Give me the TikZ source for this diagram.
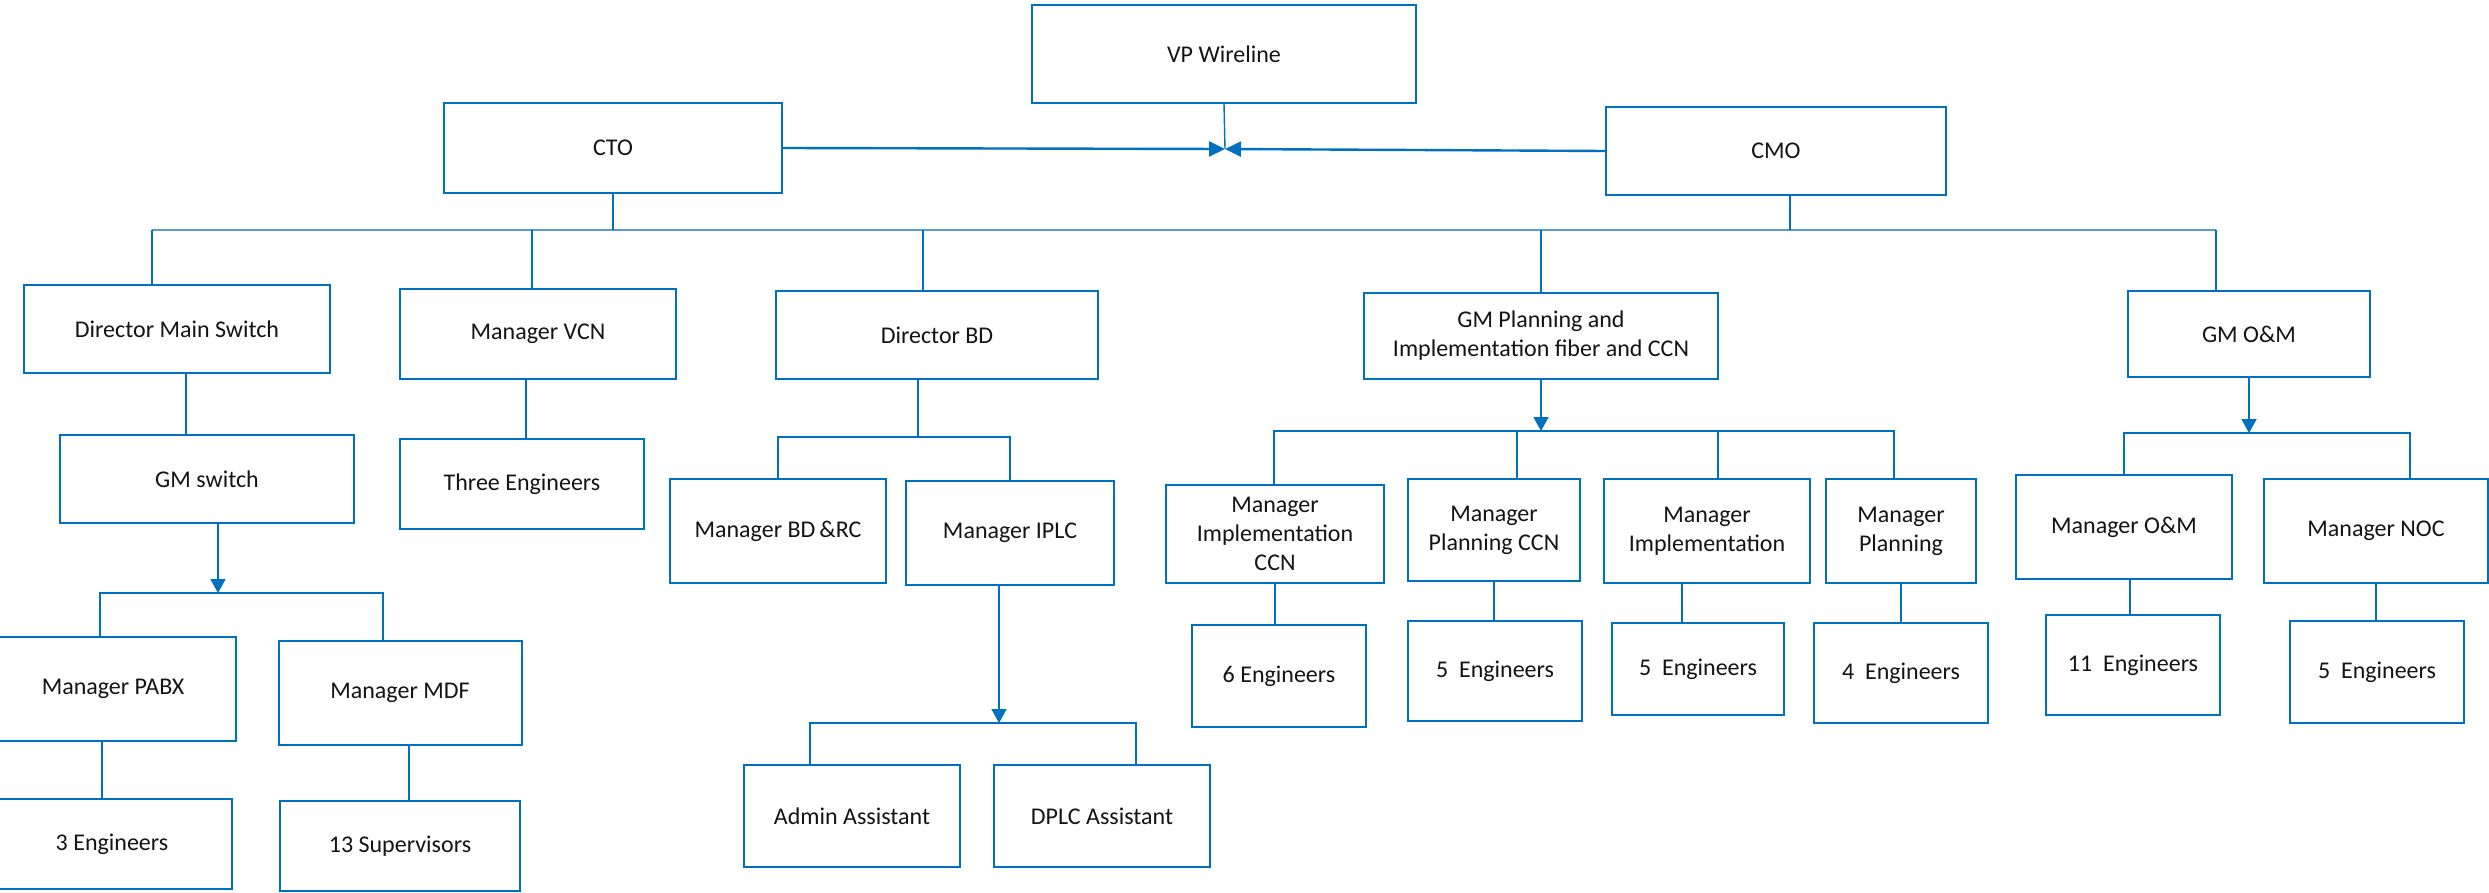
\documentclass[tikz,border=0pt]{standalone}
\usepackage{fontspec}
\setmainfont{Carlito}
\usetikzlibrary{arrows.meta}
\definecolor{wlblue}{HTML}{0070C0}
\definecolor{wlbus}{HTML}{5B9BD5}
\definecolor{wlink}{HTML}{141414}
\tikzset{
  blk/.style={draw=wlblue, line width=1pt, fill=white, align=center, text=wlink, inner sep=2pt, font=\fontsize{12}{14.5}\selectfont},
  sz/.style 2 args={minimum width=#1*0.5pt, minimum height=#2*0.5pt},
  lnk/.style={draw=wlblue, line width=0.7pt},
  bus/.style={draw=wlbus, line width=0.9pt},
  arr/.style={-{Triangle[length=7pt,width=7.5pt]}, draw=wlblue, line width=0.9pt},
}

\begin{document}
\begin{tikzpicture}[x=0.5pt,y=-0.5pt]
  \useasboundingbox (0,0) rectangle (2489,893);
  % top level
  \node[blk, sz={384}{98}] (vp) at (1224,54) {VP Wireline};
  \node[blk, sz={338}{90}] (cto) at (613,148) {CTO};
  \node[blk, sz={340}{88}] (cmo) at (1776,151) {CMO};
  \coordinate (meet) at (1225,149);
  \draw[arr, line width=1.2pt, -{Triangle[length=8pt,width=7.5pt]}] (cto.east) -- (meet);
  \draw[arr, line width=1.2pt, -{Triangle[length=8pt,width=7.5pt]}] (cmo.west) -- (meet);
  \draw[lnk] (vp.south) -- (meet);

  % main bus
  \coordinate (b0L) at (152,230); \coordinate (b0R) at (2216,230);
  \draw[bus] (b0L) -- (b0R);
  \draw[lnk] (cto.south) -- (cto.south |- b0L);
  \draw[lnk] ([xshift=7pt]cmo.south) -- ([xshift=7pt]cmo.south |- b0L);

  % second row
  \node[blk, sz={306}{88}] (dms) at (177,329) {Director Main Switch};
  \node[blk, sz={276}{90}] (vcn) at (538,334) {Manager VCN};
  \node[blk, sz={322}{88}] (dbd) at (937,335) {Director BD};
  \node[blk, sz={354}{86}] (gmp) at (1541,336) {GM Planning and\\Implementation fiber and CCN};
  \node[blk, sz={242}{86}] (gmom) at (2249,334) {GM O\&M};
  \draw[lnk] (b0L) -- (b0L |- dms.north);
  \draw[lnk] ([xshift=-3pt]vcn.north) -- ([xshift=-3pt]vcn.north |- b0L);
  \draw[lnk] ([xshift=-7pt]dbd.north) -- ([xshift=-7pt]dbd.north |- b0L);
  \draw[lnk] (gmp.north) -- (gmp.north |- b0L);
  \draw[lnk] (b0R) -- (b0R |- gmom.north);

  % main switch branch
  \node[blk, sz={294}{88}] (gms) at (207,479) {GM switch};
  \node[blk, sz={246}{104}] (pabx) at (113,689) {Manager PABX};
  \node[blk, sz={243}{104}] (mdf) at (400,693) {Manager MDF};
  \node[blk, sz={240}{90}] (eng3) at (112,844) {3 Engineers};
  \node[blk, sz={240}{90}] (sup13) at (400,846) {13 Supervisors};
  \draw[lnk] ([xshift=4.5pt]dms.south) -- ([xshift=4.5pt]dms.south |- gms.north);
  \coordinate (b1L) at (100,593); \coordinate (b1R) at (383,593);
  \draw[lnk] (b1L |- pabx.north) -- (b1L) -- (b1R) -- (b1R |- mdf.north);
  \draw[arr] ([xshift=5.5pt]gms.south) -- ([xshift=5.5pt]gms.south |- b1L);
  \draw[lnk] ([xshift=-5.5pt]pabx.south) -- ([xshift=-5.5pt]pabx.south |- eng3.north);
  \draw[lnk] ([xshift=4.5pt]mdf.south) -- ([xshift=4.5pt]mdf.south |- sup13.north);

  % VCN branch
  \node[blk, sz={244}{90}] (three) at (522,484) {Three Engineers};
  \draw[lnk] ([xshift=-6pt]vcn.south) -- ([xshift=-6pt]vcn.south |- three.north);

  % BD branch
  \node[blk, sz={216}{104}] (bdrc) at (778,531) {Manager BD\,\&RC};
  \node[blk, sz={208}{104}] (iplc) at (1010,533) {Manager IPLC};
  \node[blk, sz={216}{102}] (admin) at (852,816) {Admin Assistant};
  \node[blk, sz={216}{102}] (dplc) at (1102,816) {DPLC Assistant};
  \coordinate (b2L) at (778,437); \coordinate (b2R) at (1010,437);
  \draw[lnk] ([xshift=-9.5pt]dbd.south) -- ([xshift=-9.5pt]dbd.south |- b2L);
  \draw[lnk] (bdrc.north) -- (b2L) -- (b2R) -- (iplc.north);
  \coordinate (b3L) at (810,723); \coordinate (b3R) at (1136,723);
  \draw[lnk] (b3L |- admin.north) -- (b3L) -- (b3R) -- (b3R |- dplc.north);
  \draw[arr] ([xshift=-5.5pt]iplc.south) -- ([xshift=-5.5pt]iplc.south |- b3L);

  % planning branch
  \node[blk, sz={218}{98}] (mic) at (1275,534) {Manager\\Implementation\\CCN};
  \node[blk, sz={172}{102}] (mpc) at (1494,530) {Manager\\Planning CCN};
  \node[blk, sz={206}{104}] (mi) at (1707,531) {Manager\\Implementation};
  \node[blk, sz={150}{104}] (mp) at (1901,531) {Manager\\Planning};
  \coordinate (b4L) at (1274,431); \coordinate (b4R) at (1894,431);
  \draw[lnk] (b4L |- mic.north) -- (b4L) -- (b4R) -- (b4R |- mp.north);
  \draw[lnk] ([xshift=11.5pt]mpc.north) -- ([xshift=11.5pt]mpc.north |- b4L);
  \draw[lnk] ([xshift=5.5pt]mi.north) -- ([xshift=5.5pt]mi.north |- b4L);
  \draw[arr] (gmp.south) -- (gmp.south |- b4L);
  \node[blk, sz={174}{102}] (e6) at (1279,676) {6 Engineers};
  \node[blk, sz={174}{100}] (e5a) at (1495,671) {5~ Engineers};
  \node[blk, sz={172}{92}] (e5b) at (1698,669) {5~ Engineers};
  \node[blk, sz={174}{100}] (e4) at (1901,673) {4~ Engineers};
  \draw[lnk] (mic.south) -- (mic.south |- e6.north);
  \draw[lnk] (mpc.south) -- (mpc.south |- e5a.north);
  \draw[lnk] ([xshift=-12.5pt]mi.south) -- ([xshift=-12.5pt]mi.south |- e5b.north);
  \draw[lnk] (mp.south) -- (mp.south |- e4.north);

  % O&M branch
  \node[blk, sz={216}{104}] (mom) at (2124,527) {Manager O\&M};
  \node[blk, sz={224}{104}] (noc) at (2376,531) {Manager NOC};
  \coordinate (b5L) at (2124,433); \coordinate (b5R) at (2410,433);
  \draw[lnk] (mom.north) -- (b5L) -- (b5R) -- (b5R |- noc.north);
  \draw[arr] (gmom.south) -- (gmom.south |- b5L);
  \node[blk, sz={174}{100}] (e11) at (2133,665) {11~ Engineers};
  \node[blk, sz={174}{102}] (e5c) at (2377,672) {5~ Engineers};
  \draw[lnk] ([xshift=3pt]mom.south) -- ([xshift=3pt]mom.south |- e11.north);
  \draw[lnk] (noc.south) -- (noc.south |- e5c.north);
\end{tikzpicture}
\end{document}
